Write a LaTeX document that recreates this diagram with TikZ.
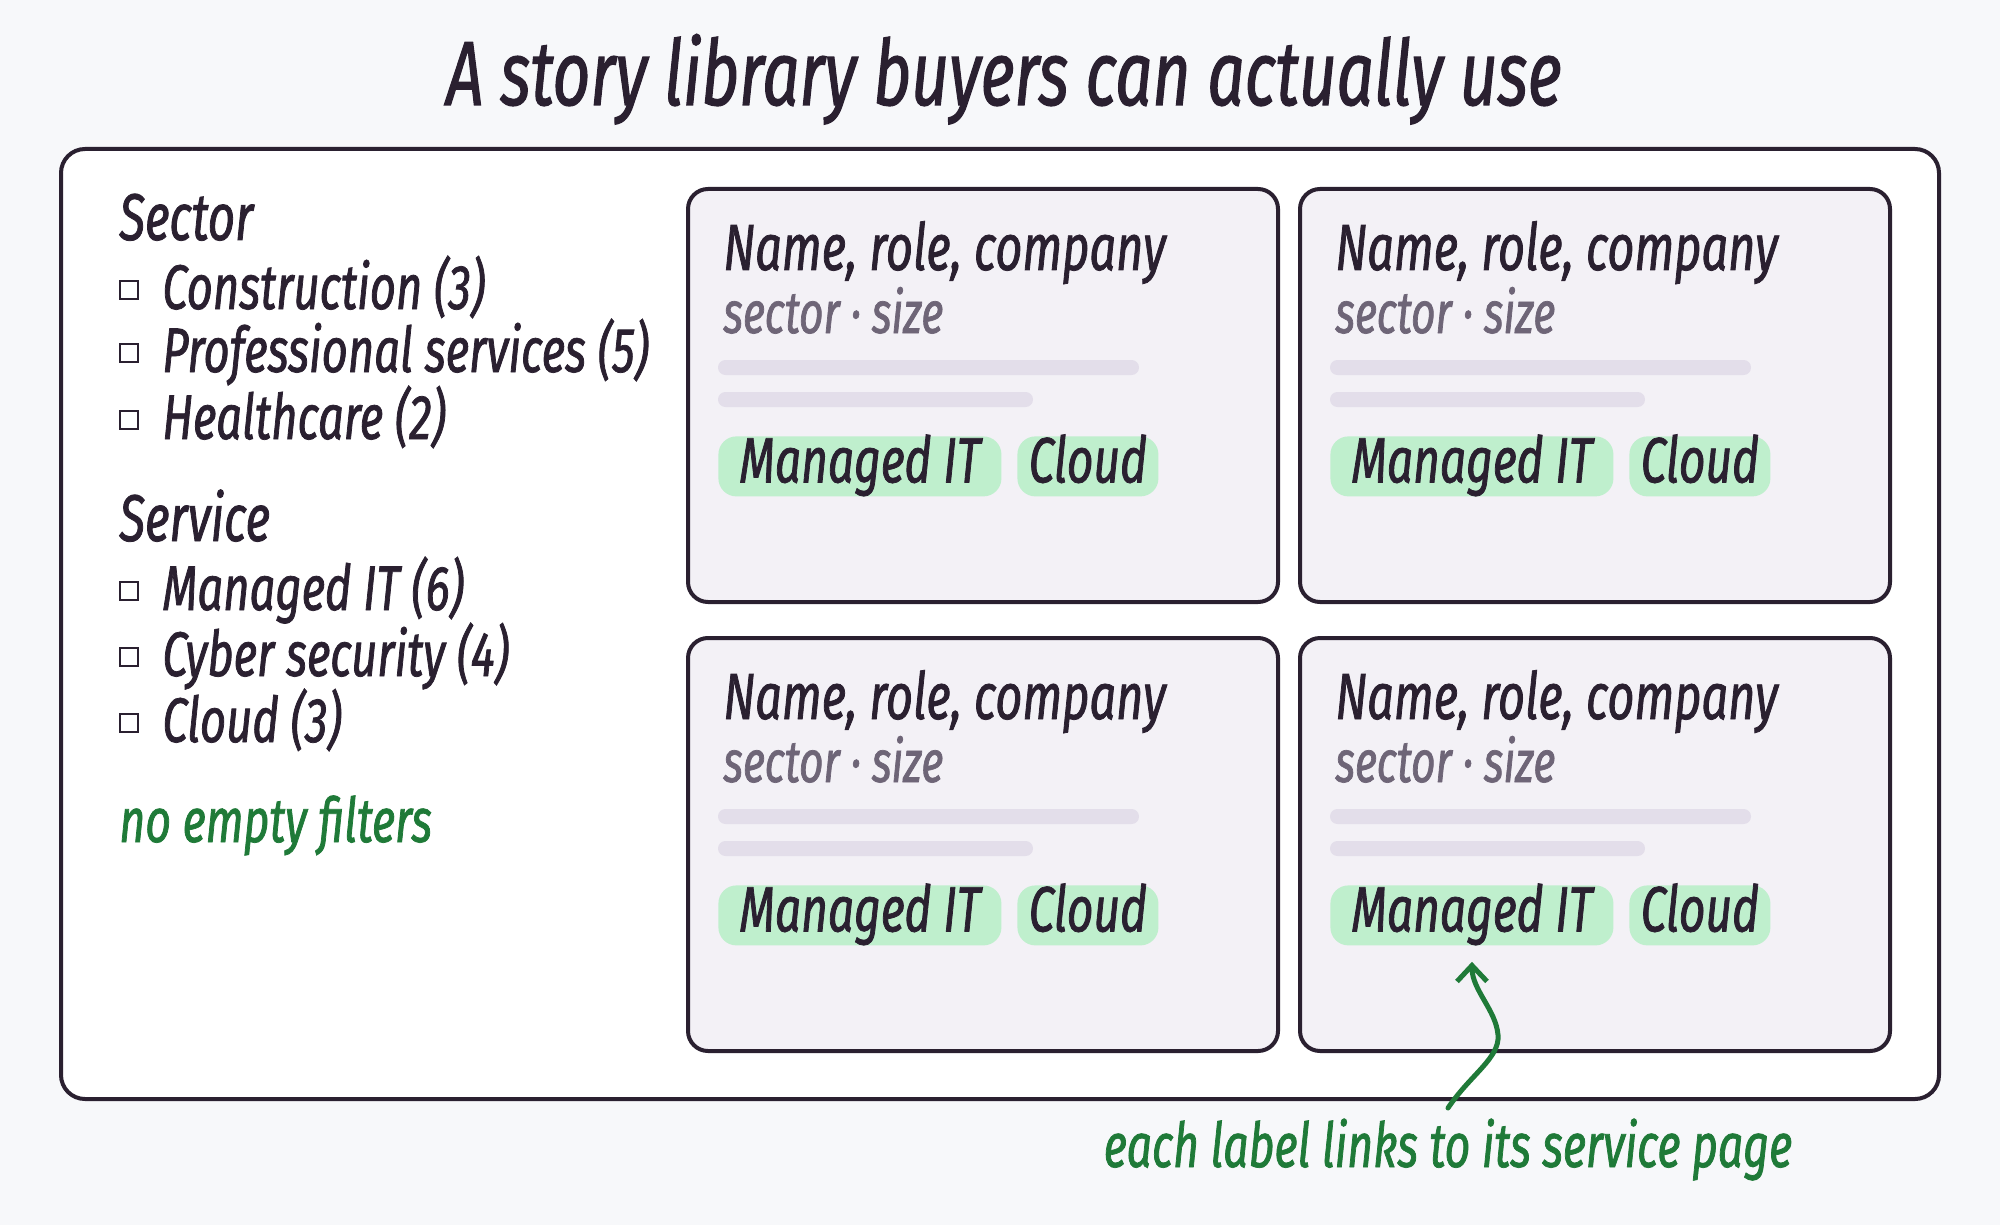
\documentclass[tikz,border=0pt]{standalone}
\usepackage{fontspec}
\newfontfamily\handfont{Fira Sans}[FakeStretch=0.72, FakeBold=1.2]
\usetikzlibrary{arrows.meta,positioning}
\definecolor{bgc}{HTML}{F7F8FA}
\definecolor{ink}{HTML}{2A2030}
\definecolor{cardbg}{HTML}{F3F1F6}
\definecolor{greyink}{HTML}{6E6577}
\definecolor{barc}{HTML}{E3DEEA}
\definecolor{tagbg}{HTML}{BFEFCD}
\definecolor{noteg}{HTML}{1F7A38}
\newcommand{\handsz}[1]{\handfont\itshape\fontsize{#1}{#1}\selectfont}
\tikzset{
  panel/.style={draw=ink, line width=2pt, fill=white, rounded corners=12pt},
  card/.style={draw=ink, line width=2pt, fill=cardbg, rounded corners=10pt,
    minimum width=295pt, minimum height=206.5pt, inner sep=0pt},
  heading/.style={font=\handsz{33}, text=ink, inner sep=0pt},
  item/.style={font=\handsz{31.5}, text=ink, inner sep=0pt},
  chkbox/.style={draw=ink, line width=1.1pt, minimum size=9pt, inner sep=0pt},
  person/.style={font=\handsz{32.6}, text=ink, inner sep=0pt},
  meta/.style={font=\handsz{29.5}, text=greyink, inner sep=0pt},
  tagpill/.style={fill=tagbg, rounded corners=9pt, minimum height=30pt,
    text height=21pt, text depth=5pt, inner sep=0pt, font=\handsz{32}, text=ink},
  note/.style={font=\handsz{31}, text=noteg, inner sep=0pt},
  linkarrow/.style={draw=noteg, line width=2.5pt, line cap=round,
    -{Straight Barb[length=8pt,width=15pt]}},
}
\begin{document}
\begin{tikzpicture}[x=0.5pt, y=-0.5pt]
  \fill[bgc] (0,0) rectangle (2000,1225);
  \useasboundingbox (0,0) rectangle (2000,1225);

  % title
  \node[font=\handsz{45.5}, text=ink, inner sep=0pt, anchor=base] (title) at (1004,105)
    {A story library buyers can actually use};

  % outer frame
  \draw[panel] (61,149) rectangle (1939,1099);

  % filters
  \node[heading, anchor=base west] (hdsector) at (119,240) {Sector};
  \foreach \lbl/\yb [count=\i] in {Construction (3)/309, Professional services (5)/372,
      Healthcare (2)/439} {
    \node[chkbox, anchor=south west] (sbox\i) at (119,\yb-9) {};
    \node[item, anchor=base west] (sitem\i) at (162,\yb) {\lbl};
  }
  \node[heading, anchor=base west] (hdservice) at (119,541) {Service};
  \foreach \lbl/\yb [count=\i] in {Managed IT (6)/610, Cyber security (4)/676,
      Cloud (3)/742} {
    \node[chkbox, anchor=south west] (vbox\i) at (119,\yb-9) {};
    \node[item, anchor=base west] (vitem\i) at (162,\yb) {\lbl};
  }
  \node[note, anchor=base west] (nofilter) at (119,842) {no empty filters};

  % story cards
  \foreach \cx/\cy [count=\i] in {686/187, 1298/187, 686/636, 1298/636} {
    \node[card, anchor=north west] (card\i) at (\cx,\cy) {};
    \node[person, anchor=base west] (name\i) at (\cx+37,\cy+83) {Name, role, company};
    \node[meta, anchor=base west] (meta\i) at (\cx+37,\cy+146) {sector · size};
    \fill[barc, rounded corners=3.7pt] (\cx+32,\cy+173) rectangle (\cx+453,\cy+188);
    \fill[barc, rounded corners=3.7pt] (\cx+32,\cy+205) rectangle (\cx+347,\cy+220);
    \node[tagpill, minimum width=141.5pt, anchor=north west] (tagm\i) at (\cx+32,\cy+249) {Managed IT};
    \node[tagpill, minimum width=70.5pt, anchor=north west] (tagc\i) at (\cx+331,\cy+249) {Cloud};
  }

  % link callout
  \node[note, anchor=base] (linknote) at (1448,1167) {each label links to its service page};
  \coordinate (arrtail) at (1448,1108);
  \draw[linkarrow, shorten >=8pt] (arrtail) .. controls (1470,1075) and (1500,1058) .. (1498,1035)
    .. controls (1496,1010) and (1472,990) .. (tagm4.south);
\end{tikzpicture}
\end{document}
